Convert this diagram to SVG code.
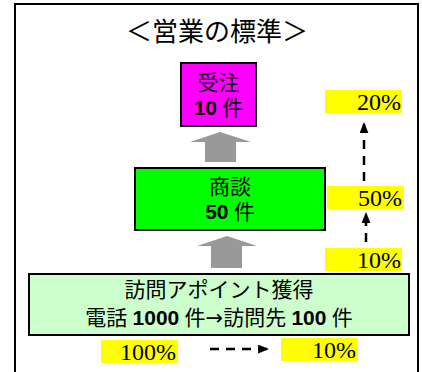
<svg xmlns="http://www.w3.org/2000/svg" width="422" height="372" viewBox="0 0 422 372">
<defs>
<style>
.box{stroke:#000;stroke-width:2}
.jp{font-family:"Liberation Serif","Noto Sans CJK JP",serif;fill:#000}
.num{font-family:"Liberation Sans","Noto Sans CJK JP",sans-serif;font-weight:bold}
.sym{font-family:"DejaVu Sans",sans-serif}
.pct{font-family:"Liberation Serif",serif;font-size:24px;text-anchor:end;fill:#000}
.yl{fill:#FFFF00}
.garr{fill:#999999}
.dash{stroke:#000;stroke-width:2.5;stroke-dasharray:9 7;fill:none}
</style>
<marker id="ah" viewBox="0 0 10 8" refX="9" refY="4" markerWidth="4.4" markerHeight="3.6" orient="auto" markerUnits="strokeWidth">
<path d="M0,0 L10,4 L0,8 z" fill="#000"/>
</marker>
</defs>
<rect width="422" height="372" fill="#fff"/>
<rect x="15" y="4" width="403" height="380" fill="none" stroke="#000" stroke-width="2"/>
<text x="217" y="41" text-anchor="middle" class="jp" font-size="26">＜営業の標準＞</text>

<g id="order">
<rect class="box" x="181" y="63" width="75" height="63" fill="#FF00FF"/>
<text class="jp" x="218.5" y="90" text-anchor="middle" font-size="21">受注</text>
<text class="jp" x="218.5" y="115" text-anchor="middle" font-size="21"><tspan class="num">10</tspan> 件</text>
</g>

<g id="meeting">
<rect class="box" x="135" y="168" width="190" height="62" fill="#00FF00"/>
<text class="jp" x="230" y="194" text-anchor="middle" font-size="21">商談</text>
<text class="jp" x="230" y="219" text-anchor="middle" font-size="21"><tspan class="num">50</tspan> 件</text>
</g>

<g id="appoint">
<rect class="box" x="29" y="274" width="380" height="61" fill="#CCFFCC"/>
<text class="jp" x="219" y="297" text-anchor="middle" font-size="21">訪問アポイント獲得</text>
<text class="jp" x="219" y="325" text-anchor="middle" font-size="21">電話 <tspan class="num">1000</tspan> 件<tspan class="sym">→</tspan>訪問先 <tspan class="num">100</tspan> 件</text>
</g>

<g id="labels">
<rect class="yl" x="325" y="90" width="77" height="23"/>
<text class="pct" x="401" y="110">20%</text>
<rect class="yl" x="327" y="186" width="77" height="23"/>
<text class="pct" x="402" y="206">50%</text>
<rect class="yl" x="325" y="248" width="77" height="23"/>
<text class="pct" x="401" y="268">10%</text>
<rect class="yl" x="101" y="340" width="77" height="23"/>
<text class="pct" x="176" y="360">100%</text>
<rect class="yl" x="281" y="338" width="77" height="23"/>
<text class="pct" x="356" y="358">10%</text>
</g>

<g id="connectors">
<polygon class="garr" points="220,132 251,142 236,142 236,162 205,162 205,142 190,142"/>
<polygon class="garr" points="227,236 257,246 242,246 242,268 211,268 211,246 197,246"/>
<path class="dash" d="M364,181 L364,123" marker-end="url(#ah)"/>
<path class="dash" d="M366,242 L366,213" marker-end="url(#ah)"/>
<path class="dash" d="M210,349 L268,349" marker-end="url(#ah)"/>
</g>
</svg>
